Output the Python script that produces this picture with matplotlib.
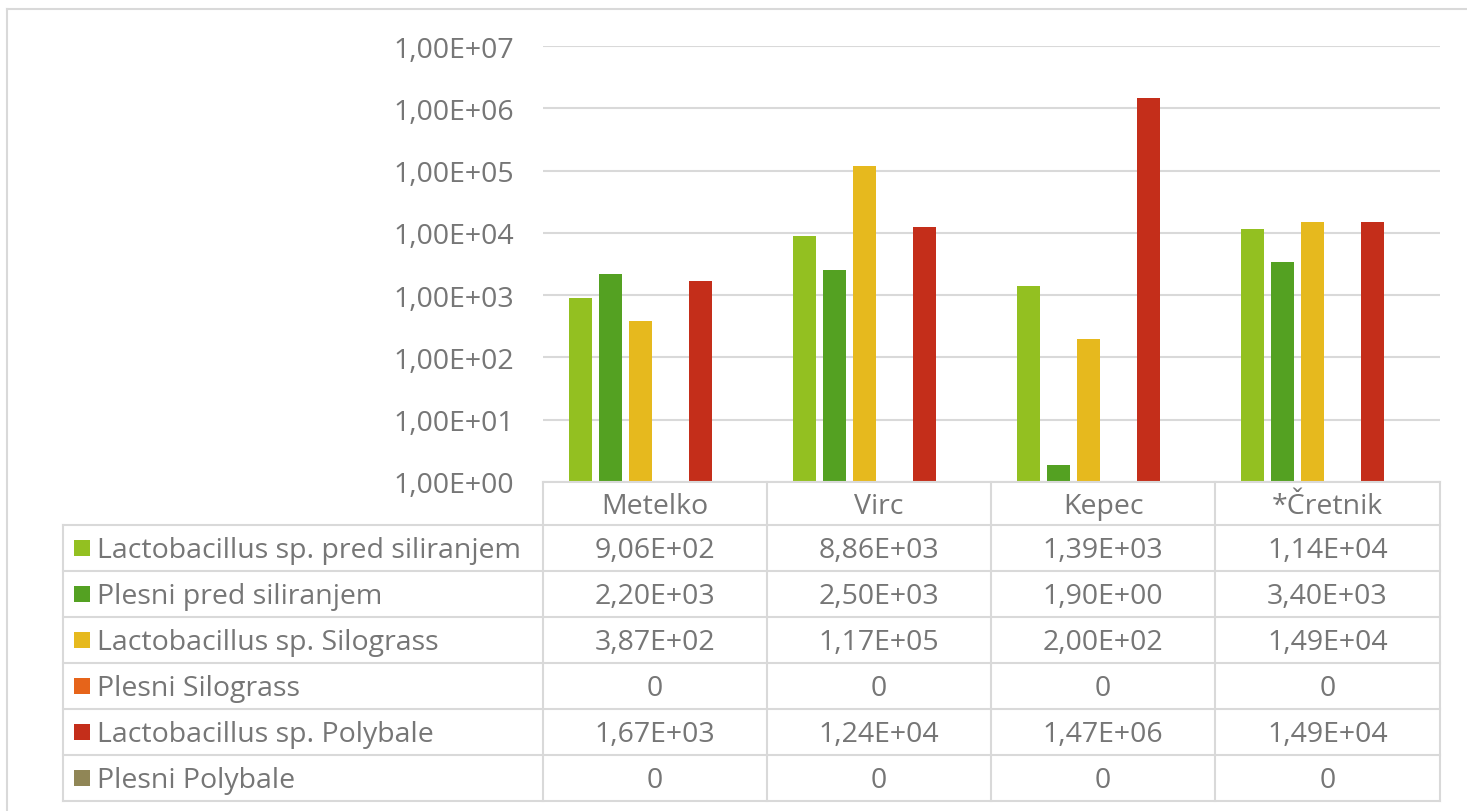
import numpy as np
import matplotlib
matplotlib.use("Agg")
import matplotlib.pyplot as plt
from matplotlib.lines import Line2D
from matplotlib.patches import Rectangle
from matplotlib.ticker import FixedLocator, FuncFormatter

categories = ["Metelko", "Virc", "Kepec", "*Čretnik"]
series_names = [
    "Lactobacillus sp. pred siliranjem",
    "Plesni pred siliranjem",
    "Lactobacillus sp. Silograss",
    "Plesni Silograss",
    "Lactobacillus sp. Polybale",
    "Plesni Polybale",
]
lacto_pred = [9.06e2, 8.86e3, 1.39e3, 1.14e4]
plesni_pred = [2.20e3, 2.50e3, 1.90e0, 3.40e3]
lacto_silograss = [3.87e2, 1.17e5, 2.00e2, 1.49e4]
plesni_silograss = [0, 0, 0, 0]
lacto_polybale = [1.67e3, 1.24e4, 1.47e6, 1.49e4]
plesni_polybale = [0, 0, 0, 0]
series_values = [lacto_pred, plesni_pred, lacto_silograss,
                 plesni_silograss, lacto_polybale, plesni_polybale]
colors = ["#93C021", "#54A122", "#E6B91E", "#E6641A", "#C42E1A", "#908656"]
y_ticks = [1e0, 1e1, 1e2, 1e3, 1e4, 1e5, 1e6, 1e7]

W, H = 1467, 812
TEXT = "#767676"
LINE = "#d9d9d9"
FONT = "Open Sans"
FS = 20.5

fig = plt.figure(figsize=(W / 100, H / 100), dpi=100)


def fx(x):
    return x / W


def fy(y):
    return 1 - y / H


# plot area
left, right, top, bottom = 543, 1440, 47, 483
ax = fig.add_axes([fx(left), fy(bottom), fx(right - left), (bottom - top) / H])
ax.set_yscale("log")
ax.set_ylim(1, 1e7)
ax.set_xlim(-0.5, len(categories) - 0.5)
ax.yaxis.set_major_locator(FixedLocator(y_ticks))
ax.yaxis.set_minor_locator(FixedLocator([]))
ax.yaxis.set_major_formatter(
    FuncFormatter(lambda v, p: "1,00E+%02d" % int(round(np.log10(v)))))
for s in ax.spines.values():
    s.set_visible(False)
ax.tick_params(axis="y", length=0, pad=21, labelsize=FS, labelcolor=TEXT)
ax.tick_params(axis="x", length=0, labelbottom=False)
for lab in ax.get_yticklabels():
    lab.set_fontfamily(FONT)
ax.grid(axis="y", color=LINE, linewidth=1.5)
ax.set_axisbelow(True)

step = 30 / 224
bw = 23 / 224
xs = np.arange(len(categories))
for k, (vals, c) in enumerate(zip(series_values, colors)):
    v = np.array(vals, dtype=float)
    h = np.where(v > 0, v - 1, 0)
    ax.bar(xs + (k - 2.5) * step, h, bottom=1, width=bw, color=c,
           linewidth=0, zorder=3)

# outer border
fig.add_artist(Line2D([fx(7), fx(W + 5)], [fy(10), fy(10)], color=LINE, lw=1.5))
fig.add_artist(Line2D([fx(7), fx(7)], [fy(10), fy(H + 5)], color=LINE, lw=1.5))

# table
col_x = [543, 767, 991, 1215, 1440]
row_y = [526, 572, 618, 664, 710, 756, 802]
tab_left = 63
fig.add_artist(Line2D([fx(543), fx(1440)], [fy(483), fy(483)], color=LINE, lw=1.5))
for y in row_y:
    fig.add_artist(Line2D([fx(tab_left), fx(1440)], [fy(y), fy(y)], color=LINE, lw=1.5))
for x in col_x:
    fig.add_artist(Line2D([fx(x), fx(x)], [fy(483), fy(802)], color=LINE, lw=1.5))
fig.add_artist(Line2D([fx(tab_left), fx(tab_left)], [fy(526), fy(802)], color=LINE, lw=1.5))

for i, cat in enumerate(categories):
    cx = (col_x[i] + col_x[i + 1]) / 2
    fig.text(fx(cx), fy(507), cat, ha="center", va="center", fontsize=FS,
             color=TEXT, family=FONT)


def fmt(v):
    if v == 0:
        return "0"
    return ("%.2E" % v).replace(".", ",")


for r, (name, vals, c) in enumerate(zip(series_names, series_values, colors)):
    cy = (row_y[r] + row_y[r + 1]) / 2
    fig.add_artist(Rectangle((fx(74), fy(cy + 8)), fx(16), 16 / H,
                             color=c, linewidth=0))
    fig.text(fx(97), fy(cy + 2), name, ha="left", va="center", fontsize=FS,
             color=TEXT, family=FONT)
    for i, v in enumerate(vals):
        cx = (col_x[i] + col_x[i + 1]) / 2
        fig.text(fx(cx), fy(cy + 2), fmt(v), ha="center", va="center",
                 fontsize=FS, color=TEXT, family=FONT)

fig.savefig("out.png", dpi=100)
